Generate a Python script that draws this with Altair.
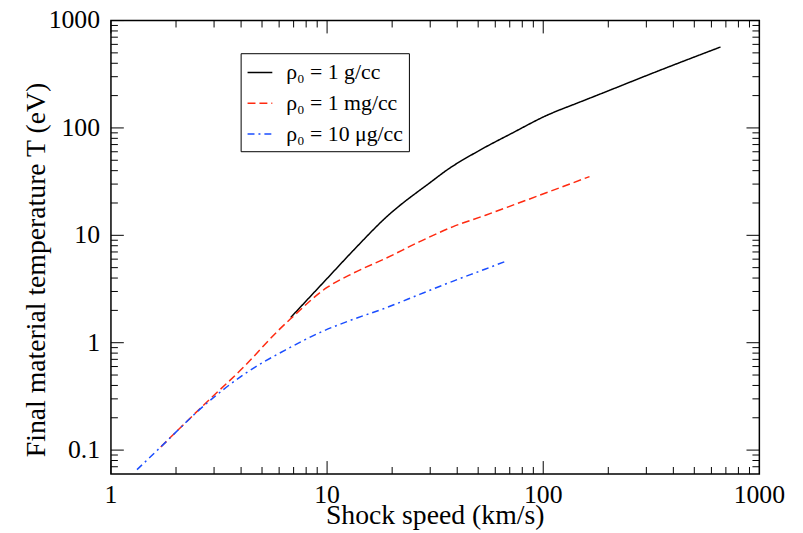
import altair as alt
import pandas as pd

# ---- data ----
series_labels = ["ρ₀ = 1 g/cc", "ρ₀ = 1 mg/cc", "ρ₀ = 10 μg/cc"]

speed_1g = [6.79, 10, 13.3, 18.8, 30.8, 35.5, 50.2, 71.9, 101.8, 150.4, 172.6, 349, 661]
temp_1g = [1.72, 3.96, 7.32, 14.8, 32.3, 40.0, 61.1, 89.6, 128.5, 176.6, 197, 346, 567]

speed_1mg = [1.70, 2.68, 4.17, 5.90, 6.76, 10, 13.3, 18.8, 26.8, 38.1, 54.1, 71.9, 163.7]
temp_1mg = [0.107, 0.262, 0.611, 1.28, 1.66, 3.27, 4.47, 6.14, 8.73, 12.0, 15.4, 19.0, 35.2]

speed_10ug = [1.32, 1.70, 2.68, 4.17, 6.56, 9.31, 13.3, 18.8, 26.8, 38.1, 54.1, 66.1]
temp_10ug = [0.0658, 0.107, 0.257, 0.515, 0.877, 1.25, 1.66, 2.12, 2.82, 3.73, 4.86, 5.67]

x_major = [1, 10, 100, 1000]
x_labels = ["1", "10", "100", "1000"]
x_minor = [2, 3, 4, 5, 6, 7, 8, 9, 20, 30, 40, 50, 60, 70, 80, 90,
           200, 300, 400, 500, 600, 700, 800, 900]
y_major = [0.1, 1, 10, 100, 1000]
y_labels = ["0.1", "1", "10", "100", "1000"]
y_minor = [0.07, 0.08, 0.09, 0.2, 0.3, 0.4, 0.5, 0.6, 0.7, 0.8, 0.9,
           2, 3, 4, 5, 6, 7, 8, 9, 20, 30, 40, 50, 60, 70, 80, 90,
           200, 300, 400, 500, 600, 700, 800, 900]
x_title = ["Shock speed (km/s)"]
y_title = ["Final material temperature T (eV)"]

# ---- styles ----
colors = ["#000000", "#ff2a10", "#1a4dff"]
dashes = [[1, 0], [8, 4], [7, 4, 2, 4]]
FONT = "Liberation Serif"
W, H = 655, 458
MAJ, MIN = 13, 7
LABEL_SIZE, TITLE_SIZE = 26, 28

rows = []
for lab, xs, ys in zip(series_labels, [speed_1g, speed_1mg, speed_10ug],
                       [temp_1g, temp_1mg, temp_10ug]):
    for xv, yv in zip(xs, ys):
        rows.append({"series": lab, "speed": xv, "temp": yv})
df = pd.DataFrame(rows)

xscale = alt.Scale(type="log", domain=[1, 1000], nice=False)
yscale = alt.Scale(type="log", domain=[0.06, 1000], nice=False)

legend = alt.Legend(
    title=None, orient="none", legendX=131, legendY=33,
    symbolType="stroke", symbolSize=625, symbolStrokeWidth=1.5,
    labelFont=FONT, labelFontSize=22, labelColor="black", labelOffset=13,
    padding=6, rowPadding=6, strokeColor="black", fillColor="white",
    labelLimit=400,
)

lines = alt.Chart(df).mark_line(strokeWidth=1.5, interpolate="monotone").encode(
    x=alt.X("speed:Q", scale=xscale, axis=None),
    y=alt.Y("temp:Q", scale=yscale, axis=None),
    color=alt.Color("series:N", scale=alt.Scale(domain=series_labels, range=colors),
                    legend=legend),
    strokeDash=alt.StrokeDash("series:N", scale=alt.Scale(domain=series_labels, range=dashes),
                              legend=legend),
)


def xticks(values, length, top):
    d = pd.DataFrame({"v": values})
    y0, y1 = (0, length) if top else (H, H - length)
    return alt.Chart(d).mark_rule(color="black", strokeWidth=1).encode(
        x=alt.X("v:Q", scale=xscale, axis=None),
        y=alt.value(y0), y2=alt.value(y1))


def yticks(values, length, right):
    d = pd.DataFrame({"v": values})
    x0, x1 = (W, W - length) if right else (0, length)
    return alt.Chart(d).mark_rule(color="black", strokeWidth=1).encode(
        y=alt.Y("v:Q", scale=yscale, axis=None),
        x=alt.value(x0), x2=alt.value(x1))


ticks = [
    xticks(x_major, MAJ, False), xticks(x_minor, MIN, False),
    xticks(x_major, MAJ, True), xticks(x_minor, MIN, True),
    yticks(y_major, MAJ, False), yticks(y_minor, MIN, False),
    yticks(y_major, MAJ, True), yticks(y_minor, MIN, True),
]

# tick labels and axis titles
x_tick_labels = alt.Chart(pd.DataFrame({"v": x_major, "t": x_labels})).mark_text(
    font=FONT, fontSize=LABEL_SIZE, color="black", align="center", baseline="top"
).encode(x=alt.X("v:Q", scale=xscale, axis=None), y=alt.value(H + 8), text="t:N")

y_tick_labels = alt.Chart(pd.DataFrame({"v": y_major, "t": y_labels})).mark_text(
    font=FONT, fontSize=LABEL_SIZE, color="black", align="right", baseline="middle"
).encode(y=alt.Y("v:Q", scale=yscale, axis=None), x=alt.value(-11), text="t:N")

x_title_mark = alt.Chart(pd.DataFrame({"t": x_title})).mark_text(
    font=FONT, fontSize=TITLE_SIZE, color="black", align="center", baseline="alphabetic"
).encode(x=alt.value(W / 2), y=alt.value(H + 51), text="t:N")

y_title_mark = alt.Chart(pd.DataFrame({"t": y_title})).mark_text(
    font=FONT, fontSize=TITLE_SIZE, color="black", align="center", baseline="alphabetic",
    angle=270
).encode(x=alt.value(-67), y=alt.value(H / 2 + 23), text="t:N")

chart = alt.layer(
    lines, *ticks, x_tick_labels, y_tick_labels, x_title_mark, y_title_mark
).properties(
    width=W, height=H,
    autosize=alt.AutoSizeParams(type="none"),
    padding={"left": 104, "top": 10, "right": 36, "bottom": 57},
    background="white",
).configure_view(stroke="black", strokeWidth=1.5)

chart.save("out.html", embed_options={"renderer": "svg", "actions": False})
